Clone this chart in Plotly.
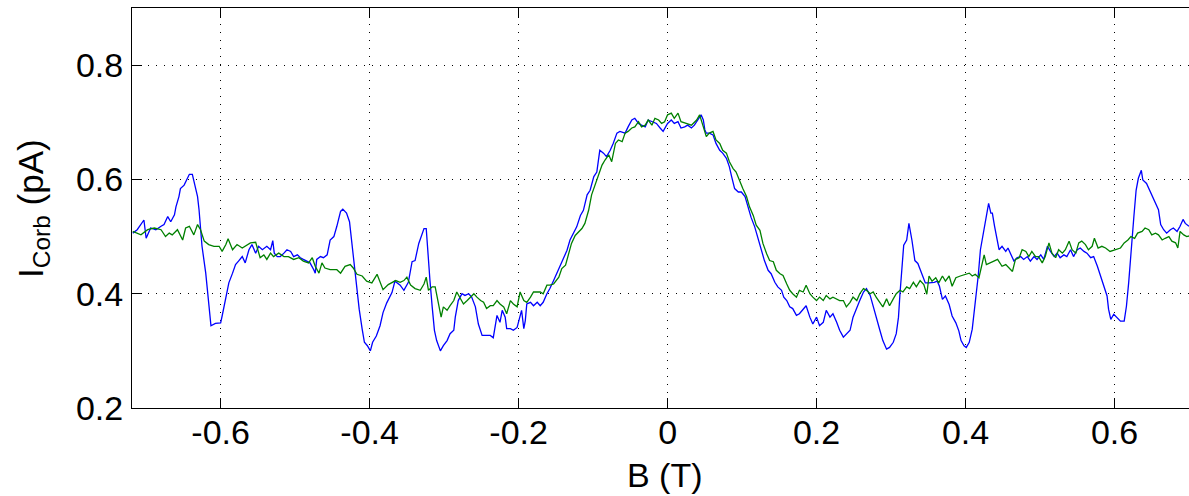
import plotly.graph_objects as go

# Magnetic field sweep (T) and Corbino current (pA), first sweep (blue)
B_blue = [
    -0.718, -0.712, -0.703, -0.700, -0.694, -0.687, -0.680, -0.676, -0.671, -0.667,
    -0.662, -0.660, -0.656, -0.654, -0.649, -0.645, -0.642, -0.638, -0.636, -0.631,
    -0.629, -0.627, -0.625, -0.620, -0.617, -0.613, -0.607, -0.600, -0.598, -0.593,
    -0.589, -0.584, -0.580, -0.576, -0.571, -0.567, -0.562, -0.558, -0.553, -0.549,
    -0.544, -0.538, -0.533, -0.530, -0.528, -0.524, -0.520, -0.515, -0.511, -0.506,
    -0.502, -0.497, -0.493, -0.489, -0.484, -0.480, -0.475, -0.473, -0.471, -0.466,
    -0.462, -0.457, -0.453, -0.448, -0.444, -0.439, -0.436, -0.431, -0.427, -0.424,
    -0.421, -0.417, -0.414, -0.410, -0.407, -0.403, -0.399, -0.396, -0.391, -0.386,
    -0.382, -0.377, -0.370, -0.366, -0.359, -0.354, -0.348, -0.343, -0.339, -0.334,
    -0.330, -0.327, -0.324, -0.322, -0.319, -0.316, -0.313, -0.310, -0.305, -0.301,
    -0.296, -0.292, -0.287, -0.285, -0.281, -0.276, -0.272, -0.267, -0.263, -0.258,
    -0.254, -0.249, -0.243, -0.238, -0.234, -0.231, -0.229, -0.225, -0.222, -0.218,
    -0.216, -0.211, -0.207, -0.202, -0.198, -0.196, -0.193, -0.191, -0.189, -0.184,
    -0.180, -0.175, -0.171, -0.167, -0.162, -0.158, -0.153, -0.149, -0.144, -0.140,
    -0.135, -0.131, -0.126, -0.122, -0.117, -0.113, -0.108, -0.104, -0.099, -0.095,
    -0.091, -0.086, -0.082, -0.077, -0.073, -0.068, -0.064, -0.057, -0.053, -0.048,
    -0.044, -0.039, -0.035, -0.030, -0.026, -0.021, -0.015, -0.010, -0.006, 0.000,
    0.005, 0.009, 0.014, 0.018, 0.023, 0.027, 0.032, 0.036, 0.041, 0.045,
    0.048, 0.050, 0.052, 0.056, 0.061, 0.065, 0.070, 0.074, 0.079, 0.083,
    0.086, 0.090, 0.095, 0.099, 0.104, 0.108, 0.112, 0.117, 0.121, 0.126,
    0.130, 0.135, 0.139, 0.144, 0.148, 0.153, 0.156, 0.160, 0.164, 0.168,
    0.173, 0.177, 0.182, 0.186, 0.191, 0.195, 0.200, 0.204, 0.209, 0.213,
    0.218, 0.222, 0.227, 0.231, 0.236, 0.240, 0.245, 0.249, 0.254, 0.258,
    0.263, 0.267, 0.272, 0.276, 0.280, 0.285, 0.289, 0.294, 0.298, 0.303,
    0.307, 0.310, 0.312, 0.314, 0.317, 0.321, 0.324, 0.328, 0.332, 0.336,
    0.341, 0.346, 0.351, 0.358, 0.362, 0.365, 0.369, 0.373, 0.378, 0.382,
    0.387, 0.391, 0.394, 0.398, 0.401, 0.405, 0.409, 0.413, 0.417, 0.420,
    0.424, 0.427, 0.431, 0.434, 0.436, 0.439, 0.442, 0.445, 0.449, 0.454,
    0.457, 0.460, 0.465, 0.469, 0.474, 0.478, 0.483, 0.487, 0.492, 0.496,
    0.501, 0.505, 0.510, 0.514, 0.519, 0.523, 0.527, 0.532, 0.536, 0.541,
    0.545, 0.550, 0.554, 0.559, 0.563, 0.568, 0.572, 0.577, 0.581, 0.586,
    0.588, 0.590, 0.592, 0.595, 0.599, 0.603, 0.608, 0.613, 0.616, 0.619,
    0.622, 0.626, 0.629, 0.632, 0.636, 0.638, 0.643, 0.646, 0.650, 0.655,
    0.659, 0.662, 0.666, 0.670, 0.675, 0.679, 0.684, 0.688, 0.692, 0.695, 0.700,
]
I_blue = [
    0.506, 0.512, 0.529, 0.497, 0.515, 0.512, 0.518, 0.521, 0.535, 0.526,
    0.538, 0.552, 0.570, 0.584, 0.590, 0.602, 0.609, 0.609, 0.599, 0.570,
    0.547, 0.512, 0.483, 0.436, 0.390, 0.344, 0.348, 0.349, 0.361, 0.396,
    0.419, 0.436, 0.451, 0.457, 0.465, 0.454, 0.477, 0.486, 0.471, 0.483,
    0.477, 0.483, 0.477, 0.493, 0.471, 0.465, 0.465, 0.471, 0.477, 0.474,
    0.465, 0.468, 0.463, 0.460, 0.457, 0.454, 0.442, 0.436, 0.460, 0.465,
    0.463, 0.468, 0.494, 0.500, 0.518, 0.544, 0.548, 0.541, 0.526, 0.489,
    0.448, 0.407, 0.373, 0.338, 0.315, 0.309, 0.300, 0.315, 0.326, 0.344,
    0.367, 0.384, 0.402, 0.422, 0.415, 0.406, 0.420, 0.456, 0.458, 0.488,
    0.505, 0.514, 0.514, 0.470, 0.423, 0.377, 0.336, 0.318, 0.300, 0.309,
    0.318, 0.330, 0.336, 0.359, 0.388, 0.400, 0.397, 0.400, 0.394, 0.377,
    0.347, 0.327, 0.327, 0.327, 0.323, 0.347, 0.362, 0.350, 0.371, 0.359,
    0.339, 0.339, 0.336, 0.341, 0.365, 0.371, 0.339, 0.353, 0.382, 0.385,
    0.379, 0.385, 0.379, 0.385, 0.400, 0.409, 0.423, 0.435, 0.447, 0.461,
    0.476, 0.494, 0.508, 0.517, 0.537, 0.546, 0.573, 0.581, 0.605, 0.613,
    0.651, 0.646, 0.640, 0.651, 0.663, 0.681, 0.684, 0.681, 0.692, 0.704,
    0.707, 0.698, 0.695, 0.692, 0.704, 0.701, 0.698, 0.690, 0.684, 0.698,
    0.704, 0.698, 0.701, 0.690, 0.692, 0.695, 0.690, 0.695, 0.704, 0.713,
    0.704, 0.687, 0.681, 0.681, 0.678, 0.663, 0.651, 0.646, 0.637, 0.622,
    0.605, 0.584, 0.578, 0.578, 0.570, 0.552, 0.534, 0.517, 0.499, 0.476,
    0.458, 0.441, 0.435, 0.420, 0.412, 0.406, 0.394, 0.388, 0.377, 0.374,
    0.362, 0.365, 0.374, 0.379, 0.359, 0.347, 0.359, 0.344, 0.350, 0.371,
    0.359, 0.365, 0.350, 0.336, 0.324, 0.330, 0.336, 0.359, 0.377, 0.388,
    0.403, 0.409, 0.397, 0.377, 0.359, 0.336, 0.318, 0.303, 0.306, 0.315,
    0.330, 0.359, 0.400, 0.435, 0.485, 0.494, 0.523, 0.494, 0.458, 0.453,
    0.435, 0.419, 0.419, 0.420, 0.422, 0.413, 0.390, 0.396, 0.381, 0.361,
    0.349, 0.335, 0.318, 0.309, 0.306, 0.315, 0.338, 0.384, 0.431, 0.477,
    0.506, 0.535, 0.558, 0.541, 0.541, 0.518, 0.494, 0.477, 0.483, 0.474,
    0.480, 0.471, 0.457, 0.463, 0.465, 0.460, 0.465, 0.457, 0.465, 0.460,
    0.468, 0.460, 0.483, 0.474, 0.465, 0.471, 0.463, 0.468, 0.465, 0.477,
    0.465, 0.477, 0.480, 0.474, 0.471, 0.463, 0.465, 0.448, 0.431, 0.413,
    0.402, 0.396, 0.373, 0.355, 0.364, 0.358, 0.352, 0.352, 0.378, 0.419,
    0.477, 0.535, 0.581, 0.602, 0.616, 0.599, 0.593, 0.584, 0.573, 0.558,
    0.547, 0.521, 0.512, 0.506, 0.512, 0.515, 0.509, 0.518, 0.530, 0.523, 0.518,
]

# Second sweep (green)
B_green = [
    -0.718, -0.707, -0.698, -0.689, -0.680, -0.674, -0.669, -0.665, -0.658, -0.651,
    -0.647, -0.642, -0.636, -0.631, -0.627, -0.622, -0.616, -0.609, -0.602, -0.598,
    -0.593, -0.590, -0.584, -0.578, -0.571, -0.564, -0.560, -0.553, -0.547, -0.542,
    -0.538, -0.533, -0.529, -0.522, -0.515, -0.509, -0.502, -0.495, -0.489, -0.482,
    -0.477, -0.473, -0.468, -0.464, -0.460, -0.453, -0.444, -0.439, -0.433, -0.426,
    -0.422, -0.417, -0.410, -0.404, -0.397, -0.390, -0.386, -0.382, -0.375, -0.368,
    -0.365, -0.359, -0.354, -0.350, -0.345, -0.339, -0.332, -0.327, -0.324, -0.321,
    -0.316, -0.312, -0.307, -0.304, -0.301, -0.296, -0.292, -0.287, -0.283, -0.278,
    -0.274, -0.269, -0.265, -0.260, -0.256, -0.251, -0.247, -0.243, -0.238, -0.234,
    -0.229, -0.225, -0.220, -0.216, -0.211, -0.207, -0.202, -0.198, -0.193, -0.189,
    -0.184, -0.180, -0.175, -0.171, -0.167, -0.162, -0.158, -0.153, -0.146, -0.142,
    -0.137, -0.133, -0.129, -0.124, -0.120, -0.115, -0.111, -0.106, -0.102, -0.097,
    -0.093, -0.088, -0.084, -0.079, -0.075, -0.070, -0.066, -0.061, -0.057, -0.053,
    -0.048, -0.044, -0.039, -0.035, -0.030, -0.026, -0.021, -0.017, -0.012, -0.008,
    -0.004, 0.000, 0.005, 0.009, 0.014, 0.018, 0.025, 0.032, 0.039, 0.043,
    0.048, 0.052, 0.056, 0.061, 0.065, 0.070, 0.074, 0.079, 0.083, 0.088,
    0.092, 0.097, 0.101, 0.106, 0.110, 0.115, 0.119, 0.124, 0.128, 0.133,
    0.137, 0.142, 0.146, 0.151, 0.155, 0.160, 0.164, 0.168, 0.173, 0.177,
    0.182, 0.186, 0.191, 0.195, 0.200, 0.204, 0.209, 0.213, 0.218, 0.222,
    0.227, 0.231, 0.236, 0.240, 0.245, 0.249, 0.254, 0.258, 0.263, 0.267,
    0.272, 0.276, 0.280, 0.285, 0.289, 0.294, 0.298, 0.303, 0.307, 0.312,
    0.316, 0.321, 0.325, 0.330, 0.334, 0.339, 0.344, 0.348, 0.351, 0.355,
    0.360, 0.364, 0.369, 0.373, 0.378, 0.382, 0.387, 0.393, 0.400, 0.405,
    0.409, 0.413, 0.418, 0.422, 0.425, 0.428, 0.434, 0.438, 0.443, 0.449,
    0.454, 0.458, 0.463, 0.467, 0.472, 0.476, 0.481, 0.485, 0.489, 0.494,
    0.498, 0.503, 0.507, 0.512, 0.516, 0.521, 0.525, 0.530, 0.534, 0.539,
    0.543, 0.548, 0.552, 0.556, 0.561, 0.565, 0.570, 0.573, 0.578, 0.583,
    0.588, 0.594, 0.601, 0.608, 0.613, 0.618, 0.622, 0.627, 0.631, 0.637,
    0.641, 0.646, 0.650, 0.655, 0.659, 0.664, 0.668, 0.673, 0.677, 0.682,
    0.685, 0.688, 0.693, 0.697, 0.700,
]
I_green = [
    0.509, 0.503, 0.512, 0.515, 0.512, 0.500, 0.506, 0.503, 0.512, 0.494,
    0.515, 0.518, 0.503, 0.521, 0.512, 0.492, 0.486, 0.483, 0.483, 0.474,
    0.486, 0.496, 0.477, 0.486, 0.480, 0.486, 0.489, 0.490, 0.463, 0.468,
    0.460, 0.471, 0.465, 0.471, 0.465, 0.465, 0.460, 0.463, 0.457, 0.454,
    0.463, 0.448, 0.436, 0.454, 0.445, 0.442, 0.442, 0.436, 0.448, 0.451,
    0.445, 0.434, 0.431, 0.422, 0.419, 0.434, 0.422, 0.407, 0.416, 0.422,
    0.423, 0.420, 0.423, 0.429, 0.415, 0.409, 0.406, 0.417, 0.429, 0.406,
    0.412, 0.412, 0.382, 0.359, 0.377, 0.371, 0.379, 0.388, 0.403, 0.391,
    0.382, 0.388, 0.394, 0.400, 0.394, 0.388, 0.385, 0.374, 0.379, 0.379,
    0.388, 0.382, 0.377, 0.365, 0.388, 0.382, 0.377, 0.403, 0.388, 0.385,
    0.394, 0.403, 0.403, 0.403, 0.400, 0.415, 0.415, 0.417, 0.429, 0.444,
    0.450, 0.467, 0.488, 0.502, 0.508, 0.514, 0.523, 0.546, 0.573, 0.593,
    0.608, 0.625, 0.634, 0.643, 0.631, 0.663, 0.669, 0.666, 0.681, 0.684,
    0.690, 0.692, 0.701, 0.692, 0.695, 0.704, 0.695, 0.707, 0.704, 0.698,
    0.701, 0.713, 0.716, 0.707, 0.716, 0.701, 0.698, 0.695, 0.704, 0.713,
    0.692, 0.675, 0.681, 0.684, 0.669, 0.663, 0.651, 0.646, 0.631, 0.619,
    0.613, 0.596, 0.584, 0.570, 0.552, 0.537, 0.520, 0.511, 0.488, 0.470,
    0.458, 0.456, 0.441, 0.435, 0.432, 0.417, 0.406, 0.400, 0.394, 0.406,
    0.403, 0.415, 0.400, 0.394, 0.388, 0.394, 0.388, 0.397, 0.391, 0.394,
    0.391, 0.388, 0.388, 0.377, 0.385, 0.394, 0.388, 0.400, 0.409, 0.406,
    0.400, 0.403, 0.394, 0.385, 0.377, 0.391, 0.379, 0.391, 0.400, 0.406,
    0.403, 0.412, 0.409, 0.420, 0.412, 0.423, 0.416, 0.399, 0.431, 0.422,
    0.428, 0.419, 0.431, 0.422, 0.431, 0.413, 0.428, 0.431, 0.434, 0.436,
    0.431, 0.434, 0.428, 0.454, 0.468, 0.451, 0.454, 0.457, 0.460, 0.448,
    0.451, 0.445, 0.439, 0.460, 0.463, 0.477, 0.474, 0.465, 0.474, 0.465,
    0.465, 0.454, 0.465, 0.489, 0.471, 0.463, 0.477, 0.471, 0.477, 0.492,
    0.477, 0.471, 0.489, 0.492, 0.486, 0.477, 0.483, 0.497, 0.480, 0.483,
    0.480, 0.474, 0.477, 0.480, 0.489, 0.494, 0.500, 0.497, 0.506, 0.509,
    0.515, 0.512, 0.503, 0.506, 0.503, 0.494, 0.497, 0.500, 0.492, 0.489,
    0.480, 0.509, 0.503, 0.500, 0.501,
]

# Axis ticks
x_ticks = [-0.6, -0.4, -0.2, 0, 0.2, 0.4, 0.6]
x_tick_labels = ["-0.6", "-0.4", "-0.2", "0", "0.2", "0.4", "0.6"]
y_ticks = [0.2, 0.4, 0.6, 0.8]
y_tick_labels = ["0.2", "0.4", "0.6", "0.8"]

FONT = "Liberation Sans, Arial, Helvetica, sans-serif"

fig = go.Figure()
fig.add_trace(go.Scatter(x=B_blue, y=I_blue, mode="lines",
                         line=dict(color="#0000ff", width=1.3)))
fig.add_trace(go.Scatter(x=B_green, y=I_green, mode="lines",
                         line=dict(color="#008000", width=1.3)))

axis_common = dict(
    ticks="inside", ticklen=10, tickwidth=1, tickcolor="black",
    showline=True, linecolor="black", linewidth=1,
    showgrid=True, gridcolor="black", gridwidth=1, griddash="1px,7px",
    zeroline=False,
    tickfont=dict(family=FONT, size=34, color="black"),
)

fig.update_xaxes(range=[-0.719, 0.700], tickmode="array",
                 tickvals=x_ticks, ticktext=x_tick_labels,
                 mirror="ticks", ticklabelstandoff=-6, **axis_common)
fig.update_yaxes(range=[0.2, 0.9], tickmode="array",
                 tickvals=y_ticks, ticktext=y_tick_labels,
                 mirror=False, ticklabelstandoff=1, **axis_common)

fig.add_annotation(text="B (T)", xref="x", yref="paper", x=-0.003, y=-0.1675,
                   xanchor="center", yanchor="middle", showarrow=False,
                   font=dict(family=FONT, size=34, color="black"))
fig.add_annotation(text="I<sub>Corb</sub> (pA)", xref="paper", yref="paper",
                   x=-0.0937, y=0.5, xanchor="center", yanchor="middle",
                   textangle=-90, showarrow=False,
                   font=dict(family=FONT, size=35, color="black"))

fig.update_layout(
    width=1189, height=496,
    margin=dict(l=132, r=0, t=8, b=88),
    plot_bgcolor="white", paper_bgcolor="white",
    showlegend=False,
)

fig.write_html("out.html")
